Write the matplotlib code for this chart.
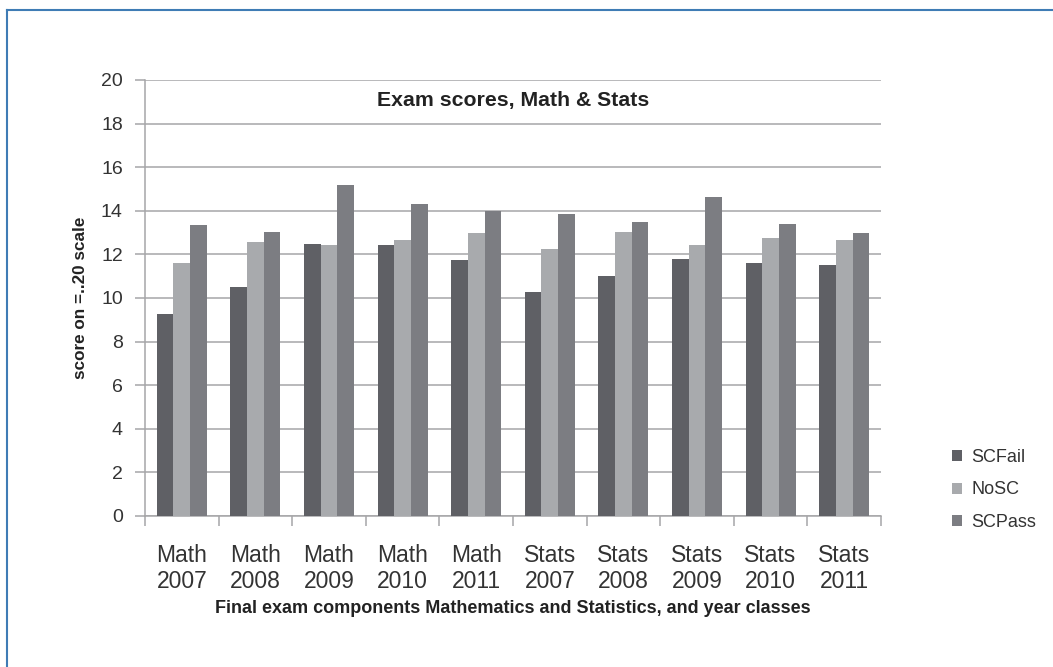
import matplotlib
matplotlib.use("Agg")
import matplotlib.pyplot as plt
import numpy as np
from matplotlib.lines import Line2D

categories = ["Math\n2007", "Math\n2008", "Math\n2009", "Math\n2010", "Math\n2011",
              "Stats\n2007", "Stats\n2008", "Stats\n2009", "Stats\n2010", "Stats\n2011"]
series_names = ["SCFail", "NoSC", "SCPass"]
scfail = [9.28, 10.5, 12.47, 12.43, 11.74, 10.27, 11.03, 11.8, 11.59, 11.51]
nosc = [11.59, 12.58, 12.43, 12.66, 12.96, 12.26, 13.04, 12.43, 12.73, 12.66]
scpass = [13.34, 13.04, 15.17, 14.33, 14.0, 13.86, 13.5, 14.64, 13.41, 12.96]
colors = ["#5f6065", "#a8aaad", "#7c7d82"]

plt.rcParams['font.family'] = ['Liberation Sans', 'DejaVu Sans']

fig = plt.figure(figsize=(10.53, 6.67), dpi=100)
ax = fig.add_axes([145/1053, 1-516/667, (881-145)/1053, (516-80)/667])

x = np.arange(len(categories))
w = 0.227
for i, (vals, name, c) in enumerate(zip([scfail, nosc, scpass], series_names, colors)):
    ax.bar(x + (i-1)*w, vals, width=w, color=c, label=name, zorder=3)

ax.set_xlim(-0.5, len(categories)-0.5)
ax.set_ylim(0, 20)
ax.set_yticks(np.arange(0, 21, 2))
ax.yaxis.grid(True, color="#a6a6a8", linewidth=1.1, zorder=0)
ax.set_axisbelow(True)
for s in ["top", "right"]:
    ax.spines[s].set_visible(False)
for s in ["left", "bottom"]:
    ax.spines[s].set_color("#a6a6a8")
    ax.spines[s].set_linewidth(1.1)

ax.set_xticks(x)
ax.set_xticklabels(categories, fontsize=16.5, color="#333333", linespacing=1.2)
ax.tick_params(axis="x", which="major", length=0, pad=20)
ax.set_xticks(np.arange(-0.5, len(categories)), minor=True)
ax.tick_params(axis="x", which="minor", length=7, color="#a6a6a8", width=1.1)
ax.tick_params(axis="y", length=7, color="#a6a6a8", width=1.1, labelsize=14, labelcolor="#333333", pad=9)

ax.text(0.5, 0.954, "Exam scores, Math & Stats", transform=ax.transAxes,
        ha="center", va="center", fontsize=15.3, fontweight="bold", color="#222222")
ax.set_ylabel("score on =..20 scale", fontsize=12.3, fontweight="bold", color="#222222", labelpad=9)
ax.set_xlabel("Final exam components Mathematics and Statistics, and year classes",
              fontsize=13, fontweight="bold", color="#222222", labelpad=5)

leg = fig.legend(loc="center left", bbox_to_anchor=(936/1053, 1-490/667), frameon=False,
                 fontsize=13, handlelength=0.55, handleheight=0.55, handletextpad=0.5,
                 labelspacing=0.85)
for t in leg.get_texts():
    t.set_color("#333333")

# outer blue frame (left and top edges visible)
fig.add_artist(Line2D([7/1053, 7/1053], [0, 1-10/667], transform=fig.transFigure,
                      color="#3f7cb5", linewidth=1.5))
fig.add_artist(Line2D([7/1053, 1], [1-10/667, 1-10/667], transform=fig.transFigure,
                      color="#3f7cb5", linewidth=1.5))

fig.savefig("out.png", dpi=100)
